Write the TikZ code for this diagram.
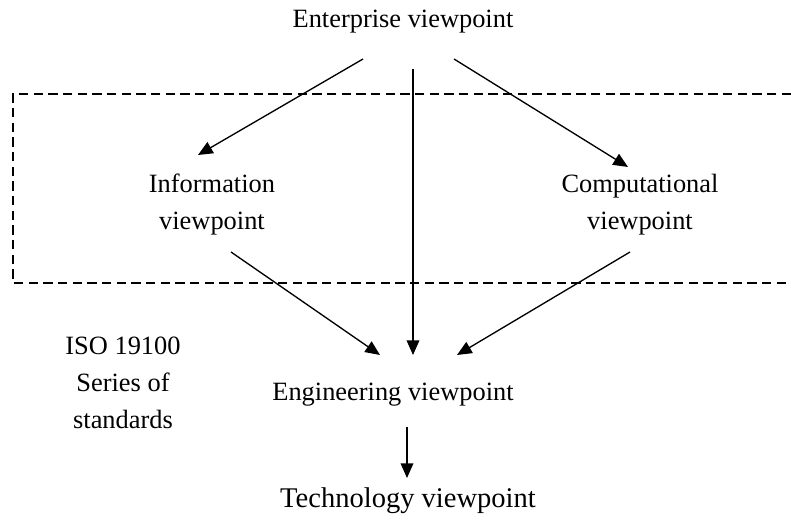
\documentclass[tikz,border=0pt]{standalone}
\usepackage{fontspec}
\setmainfont{Liberation Serif}
\usetikzlibrary{arrows.meta}
\tikzset{
  lbl/.style={inner sep=0pt, font=\fontsize{19.8pt}{27.75pt}\selectfont, align=center},
  biglbl/.style={inner sep=0pt, font=\fontsize{21.4pt}{28pt}\selectfont},
  arr/.style={line width=1pt, -{Triangle[length=11pt,width=9.5pt]}},
  dashbox/.style={line width=1pt, dash pattern=on 7pt off 4pt}
}
\begin{document}
\begin{tikzpicture}[x=0.75pt,y=-0.75pt]
\useasboundingbox (0,0) rectangle (791,520);
\draw[dashbox] (791,94) -| (13,283) -- (791,283);
\node[lbl, anchor=base] (ent) at (403,28) {Enterprise viewpoint};
\node[lbl] (info) at (212,205) {Information\\viewpoint};
\node[lbl] (comp) at (640,205) {Computational\\viewpoint};
\node[lbl] (iso) at (123,383) {ISO 19100\\Series of\\standards};
\node[lbl, anchor=base] (eng) at (393,400) {Engineering viewpoint};
\node[biglbl, anchor=base] (tech) at (408,507) {Technology viewpoint};
\draw[arr] ([shift={(-40,31)}]ent.base) -- ([shift={(-14,-50)}]info.center);
\draw[arr] ([shift={(10,41)}]ent.base) -- ([shift={(20,-45)}]eng.base);
\draw[arr] ([shift={(51,31)}]ent.base) -- ([shift={(-12,-38)}]comp.center);
\draw[arr] ([shift={(19,47)}]info.center) -- ([shift={(-13,-45)}]eng.base);
\draw[arr] ([shift={(-10,47)}]comp.center) -- ([shift={(64,-45)}]eng.base);
\draw[arr] ([shift={(14,27)}]eng.base) -- ([shift={(-1,-29)}]tech.base);
\end{tikzpicture}
\end{document}
